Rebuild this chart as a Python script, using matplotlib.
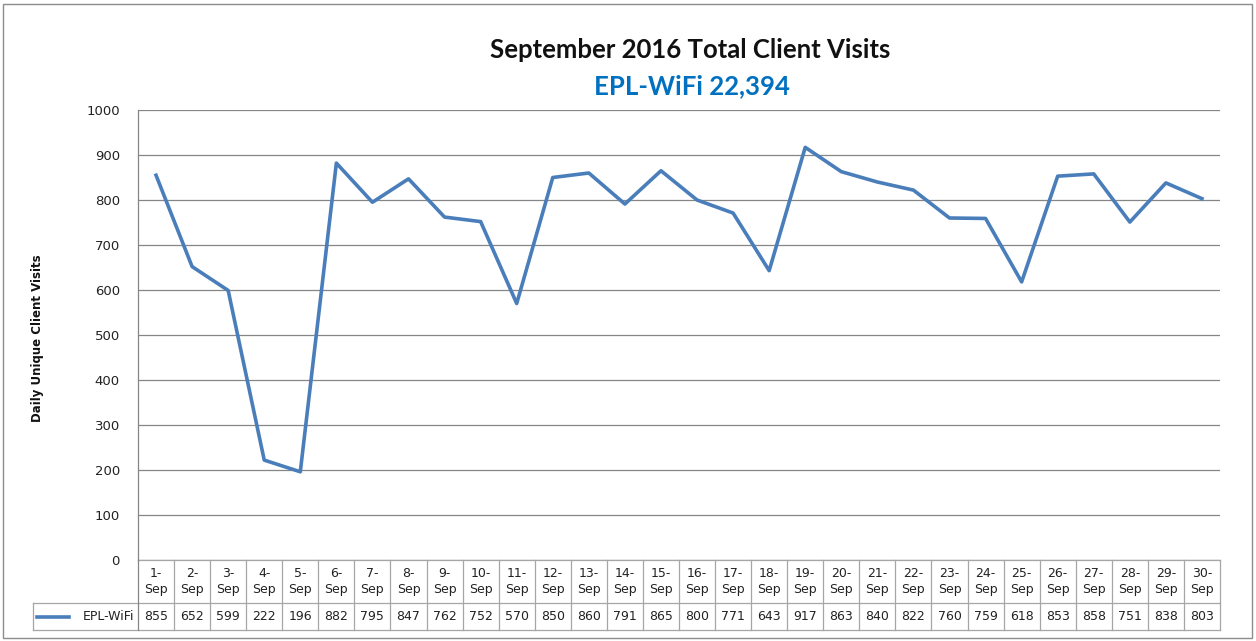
import numpy as np
import matplotlib.pyplot as plt
from matplotlib.lines import Line2D
from matplotlib.patches import Rectangle

days = [f"{d}-\nSep" for d in range(1, 31)]
visits = [855, 652, 599, 222, 196, 882, 795, 847, 762, 752,
          570, 850, 860, 791, 865, 800, 771, 643, 917, 863,
          840, 822, 760, 759, 618, 853, 858, 751, 838, 803]
series_name = "EPL-WiFi"
title = "September 2016 Total Client Visits"
subtitle = "EPL-WiFi 22,394"
ylabel = "Daily Unique Client Visits"

line_color = "#4A7EBB"
grid_color = "#868686"
table_color = "#A6A6A6"

W, H = 1256, 641
fig = plt.figure(figsize=(W / 100, H / 100), dpi=100)
# plot area in pixels: x 138..1220, y 110..560
px_l, px_r, px_t, px_b = 138, 1220, 110, 560
ax = fig.add_axes([px_l / W, 1 - px_b / H, (px_r - px_l) / W, (px_b - px_t) / H])

x = np.arange(len(visits))
ax.plot(x, visits, color=line_color, lw=2.6, solid_joinstyle="round", zorder=3)
ax.set_xlim(-0.5, len(visits) - 0.5)
ax.set_ylim(0, 1000)
ax.set_yticks(range(0, 1001, 100))
ax.yaxis.grid(True, color=grid_color, lw=0.9)
ax.set_axisbelow(True)
ax.set_xticks([])
ax.tick_params(axis="y", length=0, pad=13, labelsize=9.5, labelcolor="#222222")
for s in ["top", "right", "bottom"]:
    ax.spines[s].set_visible(False)
ax.spines["left"].set_color(grid_color)
ax.spines["left"].set_linewidth(0.9)

# data table under the axis
tr = ax.get_xaxis_transform()
ah = px_b - px_t
r1 = -43 / ah
r2 = -70 / ah
col_px = (px_r - px_l) / len(visits)
lab_left = -0.5 - (px_l - 33) / col_px
n = len(visits)
kw = dict(transform=tr, clip_on=False, color=table_color, lw=0.9)
ax.add_line(Line2D([-0.5, n - 0.5], [0, 0], **kw))
ax.add_line(Line2D([lab_left, n - 0.5], [r1, r1], **kw))
ax.add_line(Line2D([lab_left, n - 0.5], [r2, r2], **kw))
ax.add_line(Line2D([lab_left, lab_left], [r1, r2], **kw))
ax.add_line(Line2D([-0.5, -0.5], [0, r2], transform=tr, clip_on=False, color=grid_color, lw=0.9))
for i in range(n):
    ax.add_line(Line2D([i + 0.5, i + 0.5], [0, r2], **kw))
    ax.text(i, r1 / 2, days[i], transform=tr, ha="center", va="center",
            fontsize=9, color="#222222", linespacing=1.35)
    ax.text(i, (r1 + r2) / 2, str(visits[i]), transform=tr, ha="center", va="center",
            fontsize=9, color="#222222")
ax.add_line(Line2D([lab_left + 0.12, lab_left + 1.0], [(r1 + r2) / 2] * 2, transform=tr,
                   clip_on=False, color=line_color, lw=2.6))
ax.text(-0.6, (r1 + r2) / 2, series_name, transform=tr, ha="right", va="center",
        fontsize=9, color="#222222")

fig.text(690 / W, 1 - 50 / H, title, ha="center", va="center",
         fontsize=18.5, fontweight="bold", family="Lato", color="#111111")
fig.text(692 / W, 1 - 86 / H, subtitle, ha="center", va="center",
         fontsize=18.5, fontweight="bold", family="Lato", color="#0070C0")
fig.text(38 / W, 1 - 338 / H, ylabel, ha="center", va="center", rotation=90,
         fontsize=8.5, fontweight="bold", color="#111111")

fig.patches.append(Rectangle((3 / W, 3 / H), (W - 7) / W, (H - 7) / H, transform=fig.transFigure,
                             fill=False, edgecolor="#8C8C8C", lw=1))

fig.savefig("out.png", dpi=100, facecolor="white")
